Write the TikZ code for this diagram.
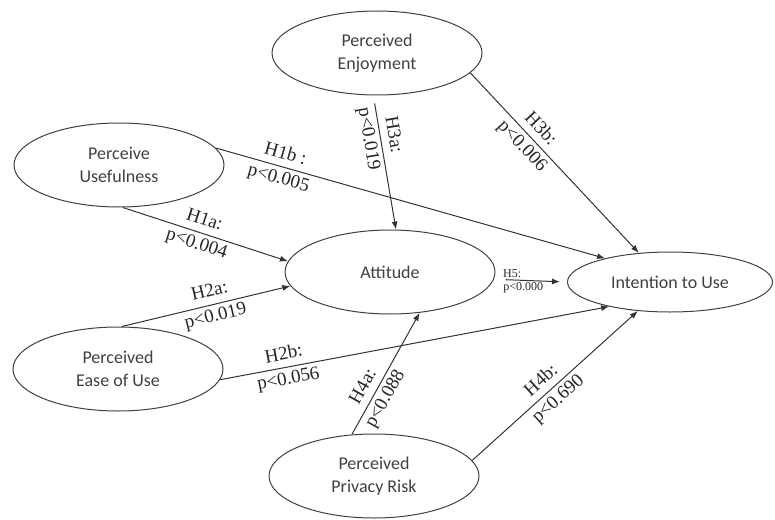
\documentclass[tikz,border=0pt]{standalone}
\usepackage{fontspec}
\setmainfont{Carlito}
\newfontfamily\hypfont{Liberation Serif}
\usetikzlibrary{shapes.geometric,arrows.meta}

\begin{document}
\begin{tikzpicture}[x=0.5pt,y=-0.5pt,
  construct/.style={ellipse,draw=black!75,line width=0.5pt,minimum width=105pt,
    minimum height=42pt,inner sep=0pt,align=center,text=black!75,
    font=\fontsize{9}{11.5}\selectfont},
  hyp/.style={-{Latex[length=4pt,width=3pt]},draw=black!80,line width=0.5pt},
  hlabel/.style={sloped,align=center,inner sep=1pt,text=black!85,
    font=\hypfont\fontsize{9.5}{12.5}\selectfont},
  smalllabel/.style={inner sep=1pt,text=black!85,font=\hypfont\fontsize{6}{7}\selectfont}]
  \useasboundingbox (0,0) rectangle (775,519);
  % constructs
  \node[construct] (enj)  at (377,53)  {Perceived\\Enjoyment};
  \node[construct] (use)  at (119,165) {Perceive\\Usefulness};
  \node[construct] (att)  at (390,272) {Attitude};
  \node[construct,minimum width=102.5pt,minimum height=30pt] (int) at (670,282) {Intention to Use};
  \node[construct] (ease) at (118,369) {Perceived\\Ease of Use};
  \node[construct] (priv) at (374,476) {Perceived\\Privacy Risk};
%%%
  \draw[hyp] (use.10) -- node[hlabel,pos=0.17] {H1b :\\p<0.005} (int.160);
  \draw[hyp,shorten <=4pt] (enj.-95) -- node[hlabel,pos=0.31] {H3a:\\p<0.019} (att.82);
  \draw[hyp] (enj.-12) -- node[hlabel,pos=0.36] {H3b:\\p<0.006} (int.137);
  \draw[hyp] (use.-85) -- node[hlabel,pos=0.47] {H1a:\\p<0.004} (att.174);
  \draw[hyp] (ease.85) -- node[hlabel,pos=0.54] {H2a:\\p<0.019} (att.188);
  \draw[hyp] (ease.-6) -- node[hlabel,pos=0.17] {H2b:\\p<0.056} (int.202);
  \draw[hyp] (priv.118) -- node[hlabel,pos=0.34] {H4a:\\p<0.088} (att.-54);
  \draw[hyp] (priv.9) -- node[hlabel,pos=0.47] {H4b:\\p<0.690} (int.222);
%%%
  \draw[hyp,shorten <=6pt,shorten >=3.5pt] (att.-4) --
    node[smalllabel,pos=0.25,above] {H5:}
    node[smalllabel,pos=0.4,below] {p<0.000} (int.180);
\end{tikzpicture}
\end{document}
